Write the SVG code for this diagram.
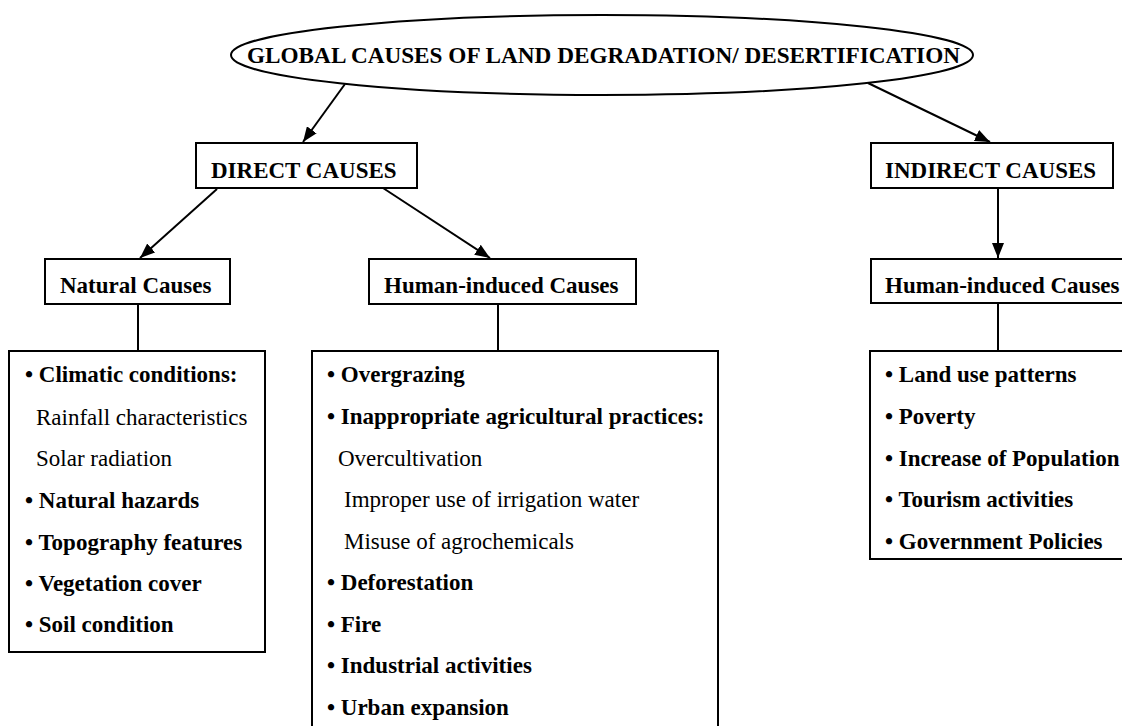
<svg xmlns="http://www.w3.org/2000/svg" width="1122" height="726" viewBox="0 0 1122 726">
<style>
.box{fill:#fff;stroke:#000;stroke-width:2}
.t{font-family:"Liberation Serif","Times New Roman",serif;font-size:23px;fill:#000}
.b{font-weight:bold}
.c{stroke:#000;stroke-width:2;fill:none}
</style>
<defs>
<marker id="ah" markerUnits="userSpaceOnUse" markerWidth="16" markerHeight="12" refX="15" refY="6" orient="auto">
<path d="M0,0 L15,6 L0,12 z" fill="#000"/>
</marker>
</defs>
<rect width="1122" height="726" fill="#fff"/>
<g id="root">
<ellipse cx="602" cy="55" rx="371" ry="40" class="box"/>
<text x="247" y="63" class="t b" textLength="713" lengthAdjust="spacingAndGlyphs">GLOBAL CAUSES OF LAND DEGRADATION/ DESERTIFICATION</text>
</g>
<g id="direct">
<rect x="196" y="143" width="221" height="45" class="box"/>
<text x="211" y="178" class="t b">DIRECT CAUSES</text>
</g>
<g id="indirect">
<rect x="871" y="143" width="242" height="45" class="box"/>
<text x="885" y="178" class="t b">INDIRECT CAUSES</text>
</g>
<g id="natural">
<rect x="45" y="259" width="185" height="45" class="box"/>
<text x="60" y="293" class="t b">Natural Causes</text>
</g>
<g id="human-direct">
<rect x="369" y="259" width="267" height="45" class="box"/>
<text x="384" y="293" class="t b">Human-induced Causes</text>
</g>
<g id="human-indirect">
<rect x="871" y="259" width="260" height="44" class="box"/>
<text x="885" y="293" class="t b">Human-induced Causes</text>
</g>
<g id="natural-list">
<rect x="9" y="351" width="256" height="301" class="box"/>
<text x="25" y="382" class="t b">• Climatic conditions:</text>
<text x="36" y="425" class="t">Rainfall characteristics</text>
<text x="36" y="466" class="t">Solar radiation</text>
<text x="25" y="508" class="t b">• Natural hazards</text>
<text x="25" y="550" class="t b">• Topography features</text>
<text x="25" y="591" class="t b">• Vegetation cover</text>
<text x="25" y="632" class="t b">• Soil condition</text>
</g>
<g id="human-direct-list">
<rect x="312" y="351" width="406" height="390" class="box"/>
<text x="327" y="382" class="t b">• Overgrazing</text>
<text x="327" y="424" class="t b">• Inappropriate agricultural practices:</text>
<text x="338" y="466" class="t">Overcultivation</text>
<text x="344" y="507" class="t">Improper use of irrigation water</text>
<text x="344" y="549" class="t">Misuse of agrochemicals</text>
<text x="327" y="590" class="t b">• Deforestation</text>
<text x="327" y="632" class="t b">• Fire</text>
<text x="327" y="673" class="t b">• Industrial activities</text>
<text x="327" y="715" class="t b">• Urban expansion</text>
</g>
<g id="human-indirect-list">
<rect x="870" y="351" width="262" height="208" class="box"/>
<text x="885" y="382" class="t b">• Land use patterns</text>
<text x="885" y="424" class="t b">• Poverty</text>
<text x="885" y="466" class="t b">• Increase of Population</text>
<text x="885" y="507" class="t b">• Tourism activities</text>
<text x="885" y="549" class="t b">• Government Policies</text>
</g>
<g id="connectors">
<line x1="345" y1="84" x2="303" y2="142" class="c" marker-end="url(#ah)"/>
<line x1="868" y1="83" x2="990" y2="142" class="c" marker-end="url(#ah)"/>
<line x1="217" y1="189" x2="140" y2="258" class="c" marker-end="url(#ah)"/>
<line x1="383" y1="188" x2="490" y2="258" class="c" marker-end="url(#ah)"/>
<line x1="998" y1="188" x2="998" y2="258" class="c" marker-end="url(#ah)"/>
<line x1="138" y1="304" x2="138" y2="351" class="c"/>
<line x1="498" y1="304" x2="498" y2="351" class="c"/>
<line x1="998" y1="303" x2="998" y2="351" class="c"/>
</g>
</svg>
